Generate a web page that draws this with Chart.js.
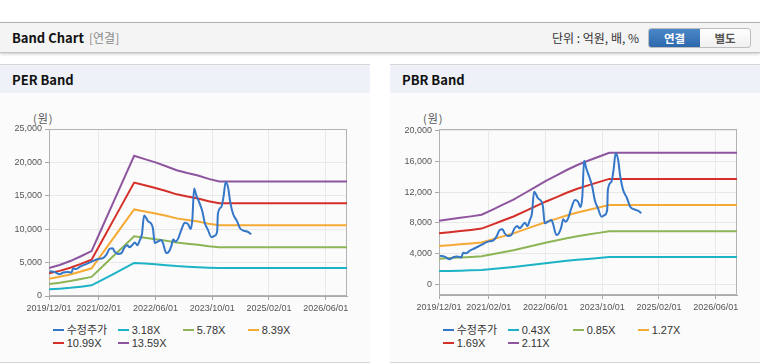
<!DOCTYPE html>
<html><head><meta charset="utf-8">
<script src="https://cdn.jsdelivr.net/npm/chart.js@4/dist/chart.umd.min.js"></script>
<style>
html,body{margin:0;padding:0;background:#fff;}
body{width:760px;height:364px;position:relative;overflow:hidden;font-family:"Noto Sans CJK KR","Noto Sans",sans-serif;}
.topline{position:absolute;left:0;top:22px;width:760px;height:1px;background:#b8b8b8;}
.bar{position:absolute;left:0;top:23px;width:760px;height:29px;background:#f4f4f4;border-bottom:1px solid #c4c4c4;box-shadow:0 1px 3px rgba(0,0,0,.22);}
.title{position:absolute;left:12px;top:0;line-height:29px;font-size:13px;font-weight:bold;color:#111;}
.sub{position:absolute;left:89px;top:0;line-height:29px;font-size:12px;color:#8a8a8a;}
.unit{position:absolute;left:552px;top:0;line-height:30px;font-size:12px;color:#333;}
.btns{position:absolute;left:648px;top:5px;width:101px;height:18px;border:1px solid #bdbdbd;border-radius:3px;overflow:hidden;background:linear-gradient(#fff,#f0f0f0);}
.btn{position:absolute;top:0;height:18px;line-height:18px;text-align:center;font-size:11.5px;font-weight:bold;}
.b1{left:0;width:51px;background:linear-gradient(#4b88c8,#2d68ad);color:#fff;}
.b2{left:51px;width:50px;color:#555;}
.panel{position:absolute;top:64px;width:370px;height:297px;background:#fbfbfb;border-top:1px solid #d6d6d6;border-bottom:1px solid #d6d6d6;}
.phead{height:28px;background:#eef2f8;line-height:30px;padding-left:12px;font-size:13px;font-weight:bold;color:#111;}
.won{position:absolute;left:33px;top:45px;font-size:11px;color:#555;letter-spacing:1px;}
canvas{position:absolute;left:0;top:35px;}
.lg{position:absolute;height:13px;line-height:13px;font-size:11px;color:#333;white-space:nowrap;font-family:"Liberation Sans","Noto Sans CJK KR",sans-serif;}
.lg i{display:inline-block;width:11px;height:2px;vertical-align:middle;margin-right:3px;position:relative;top:-1px;}
</style></head>
<body>
<div class="topline"></div>
<div class="bar">
  <div class="title">Band Chart</div>
  <div class="sub">[연결]</div>
  <div class="unit">단위 : 억원, 배, %</div>
  <div class="btns"><div class="btn b1">연결</div><div class="btn b2">별도</div></div>
</div>
<div class="panel" id="p1" style="left:0;"><div class="phead">PER Band</div><div class="won">(원)</div><canvas id="c1" width="370" height="220"></canvas></div>
<div class="panel" id="p2" style="left:390px;"><div class="phead">PBR Band</div><div class="won">(원)</div><canvas id="c2" width="370" height="220"></canvas></div>
<script>
// ---- data ----
const tickDates = ['2019-12-01','2021-02-01','2022-06-01','2023-10-01','2025-02-01','2026-06-01'];
const tickLabels = ['2019/12/01','2021/02/01','2022/06/01','2023/10/01','2025/02/01','2026/06/01'];
const axisEnd = '2026-12-01';

const priceName = '수정주가';
const priceDates = ['2019-12-07','2020-01-19','2020-03-01','2020-04-01','2020-05-07','2020-06-10','2020-06-25','2020-07-22','2020-08-22','2020-10-04','2020-11-28',
 '2021-01-25','2021-03-07','2021-04-07','2021-05-04','2021-05-28','2021-06-16','2021-07-13','2021-08-13','2021-09-10','2021-10-04','2021-10-22','2021-11-13','2021-12-07','2021-12-28',
 '2022-01-19','2022-02-07','2022-02-25','2022-03-28','2022-04-28','2022-05-10','2022-05-25','2022-06-22','2022-07-22','2022-08-04','2022-09-04','2022-09-25','2022-10-16','2022-11-01','2022-11-22','2022-12-13',
 '2023-01-10','2023-02-10','2023-03-07','2023-03-28','2023-04-13','2023-04-28','2023-05-16','2023-06-16','2023-07-07','2023-07-28','2023-08-25','2023-09-25','2023-10-22','2023-11-13','2023-11-19','2023-12-19',
 '2024-01-07','2024-01-25','2024-02-16','2024-03-04','2024-03-28','2024-05-01','2024-05-28','2024-06-28','2024-08-04','2024-09-01'];
const price = [3700,3600,3250,3520,3600,3500,4100,4040,4380,4690,5120,
 5550,5680,6200,7070,7160,6640,6290,6420,7290,7590,7290,7590,8020,7590,
 8370,9240,12060,11200,10750,10100,7940,8150,8370,7940,6420,6640,7500,8460,8150,8590,
 9900,10980,10750,10030,11400,16090,15100,13800,12710,10980,9900,8800,9020,9670,12280,13360,
 14880,17060,16190,14010,12280,11200,10100,9770,9580,9250];

const bandDates = ['2019-12-01','2020-03-01','2020-06-01','2020-09-01','2020-12-01','2021-03-01','2021-06-01','2021-09-01','2021-12-01',
 '2022-03-01','2022-06-01','2022-09-01','2022-12-01','2023-03-01','2023-06-01','2023-09-01','2023-12-01','2026-12-01'];

const perNames = ['3.18X','5.78X','8.39X','10.99X','13.59X'];
const perBand318  = [1000,1100,1230,1400,1600,2420,3250,4100,4950,4850,4750,4620,4480,4380,4300,4230,4180,4180];
const perBand578  = [1780,1980,2230,2530,2860,4380,5900,7410,8930,8720,8510,8270,8010,7830,7680,7460,7290,7290];
const perBand839  = [2580,2870,3230,3680,4150,6350,8560,10760,12960,12650,12350,12000,11620,11370,11140,10820,10590,10590];
const perBand1099 = [3390,3760,4230,4810,5440,8320,11210,14090,16980,16570,16180,15720,15220,14890,14600,14180,13870,13870];
const perBand1359 = [4190,4650,5230,5950,6730,10290,13860,17420,21000,20490,20000,19430,18820,18410,18050,17530,17150,17150];
const perYTicks = [0,5000,10000,15000,20000,25000];

const pbrNames = ['0.43X','0.85X','1.27X','1.69X','2.11X'];
const pbrBand043 = [1720,1740,1770,1810,1860,1980,2120,2260,2420,2580,2750,2900,3050,3190,3300,3420,3540,3540];
const pbrBand085 = [3330,3410,3490,3560,3650,3900,4170,4440,4760,5080,5410,5700,5990,6260,6480,6690,6900,6900];
const pbrBand127 = [4980,5090,5210,5320,5450,5830,6240,6630,7110,7600,8080,8510,8950,9350,9680,10000,10310,10310];
const pbrBand169 = [6630,6780,6930,7080,7250,7760,8300,8820,9460,10110,10750,11320,11920,12440,12880,13300,13720,13720];
const pbrBand211 = [8270,8460,8650,8840,9050,9690,10360,11010,11820,12620,13420,14140,14880,15530,16080,16610,17130,17130];
const pbrYTicks = [0,4000,8000,12000,16000,20000];

// ---- styles ----
const colors = ['#3476c8','#1cb3c6','#8db556','#f6aa36','#d42f28','#8e559f'];
const FONT = '"Liberation Sans", Arial, sans-serif';

function monthIdx(s){ const p=s.split('-').map(Number); return (p[0]-2019)*12 + (p[1]-12) + (p[2]-1)/30; }
const xMax = monthIdx(axisEnd);
const tickPos = tickDates.map(monthIdx);

function series(dates, vals){ return vals.map((v,i)=>({x:monthIdx(dates[i]), y:v})); }

const boxPlugin = {
  id:'box',
  beforeDatasetsDraw(chart){
    const a=chart.chartArea, c=chart.ctx;
    c.save(); c.strokeStyle='#b3b3b3'; c.lineWidth=1;
    c.strokeRect(Math.round(a.left)+0.5, Math.round(a.top)+0.5, Math.round(a.right-a.left)-1, Math.round(a.bottom-a.top)-1);
    c.restore();
  }
};

function build(id, names, bands, yMin, yMax, yTicks, xH){
  const datasets = [{label:priceName, data:series(priceDates, price), borderColor:colors[0], cubicInterpolationMode:'monotone'}];
  bands.forEach((b,i)=>datasets.push({label:names[i], data:series(bandDates,b), borderColor:colors[i+1]}));
  const ch = new Chart(document.getElementById(id), {
    type:'line',
    data:{datasets},
    options:{
      responsive:false, animation:false, devicePixelRatio:1,
      layout:{padding:{left:0,right:23,top:29,bottom:0}},
      plugins:{legend:{display:false}, tooltip:{enabled:false}},
      elements:{point:{radius:0}, line:{borderWidth:2, tension:0, fill:false}},
      scales:{
        x:{type:'linear', min:0, max:xMax,
           afterBuildTicks:s=>{s.ticks=tickPos.map(v=>({value:v}));},
           afterFit:s=>{s.height=xH;},
           ticks:{autoSkip:false, maxRotation:0, padding:3, color:'#555', font:{size:9,family:FONT},
                  callback:(v,i)=>tickLabels[i]},
           grid:{color:'#e9e9e9', tickLength:4, tickColor:'#aaa'},
           border:{color:'#aaa'}},
        y:{min:yMin, max:yMax,
           afterBuildTicks:s=>{s.ticks=yTicks.map(v=>({value:v}));},
           afterFit:s=>{s.width=49;},
           ticks:{padding:3, color:'#555', font:{size:9,family:FONT},
                  callback:v=>Number(v).toLocaleString('en-US')},
           grid:{color:'#e9e9e9', tickLength:4, tickColor:'#aaa'},
           border:{color:'#aaa'}}
      }
    },
    plugins:[boxPlugin]
  });
  // legend from datasets
  const panel = document.getElementById(id).parentNode;
  ch.data.datasets.forEach((d,i)=>{
    const el=document.createElement('div'); el.className='lg';
    el.style.left=(52.7 + (i%4)*65)+'px';
    el.style.top=(330-65-6.5 + Math.floor(i/4)*13.3)+'px';
    el.innerHTML='<i style="background:'+d.borderColor+'"></i>'+d.label;
    panel.appendChild(el);
  });
  return ch;
}

build('c1', perNames, [perBand318,perBand578,perBand839,perBand1099,perBand1359], 0, 25000, perYTicks, 24);
build('c2', pbrNames, [pbrBand043,pbrBand085,pbrBand127,pbrBand169,pbrBand211], -1400, 20220, pbrYTicks, 25);
</script>
</body></html>
